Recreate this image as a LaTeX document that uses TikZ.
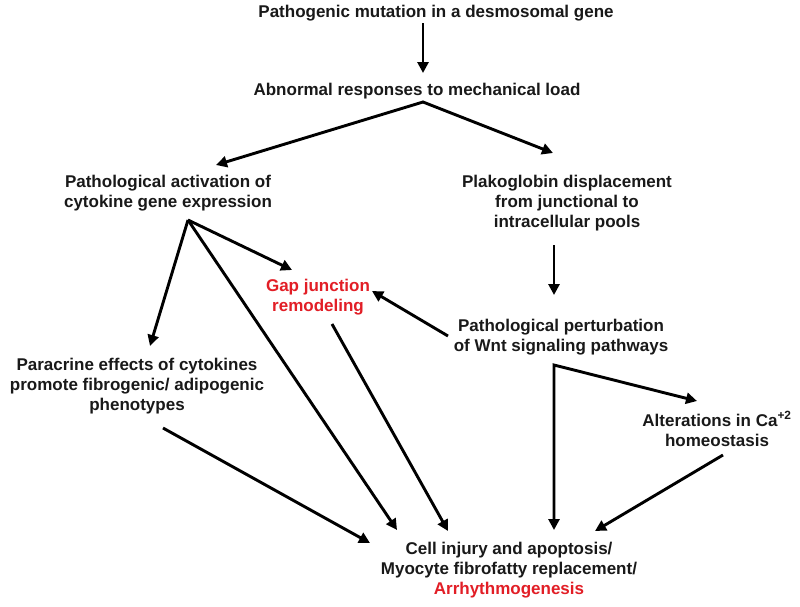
\documentclass[tikz,border=0pt]{standalone}
\usepackage{fontspec}
\setmainfont{Liberation Sans}
\usetikzlibrary{arrows.meta}
\definecolor{txt}{RGB}{25,25,25}
\definecolor{hl}{RGB}{226,30,38}
\begin{document}
\begin{tikzpicture}[x=1pt,y=-1pt,
  lbl/.style={align=center,inner sep=0pt,text=txt,font=\fontsize{17}{20}\selectfont\bfseries},
  redlbl/.style={lbl,text=hl},
  arr/.style={line width=2.9pt,draw=black,-{Triangle[length=11pt,width=11pt]},miter limit=20},
  darr/.style={line width=2.9pt,draw=black,{Triangle[length=11pt,width=11pt]}-{Triangle[length=11pt,width=11pt]},miter limit=20}]
\useasboundingbox (0,0) rectangle (800,606);
\fill[white] (0,0) rectangle (800,606);

\node[lbl] (n1) at (436,13) {Pathogenic mutation in a desmosomal gene};
\node[lbl] (n2) at (417,91) {Abnormal responses to mechanical load};
\node[lbl] (n3) at (168,193) {Pathological activation of\\cytokine gene expression};
\node[lbl] (n4) at (567,203) {Plakoglobin displacement\\from junctional to\\intracellular pools};
\node[redlbl] (n5) at (318,297) {Gap junction\\remodeling};
\node[lbl] (n6) at (561,337) {Pathological perturbation\\of Wnt signaling pathways};
\node[lbl] (n7) at (137,386) {Paracrine effects of cytokines\\promote fibrogenic/ adipogenic\\phenotypes};
\node[lbl] (n8) at (717,429) {Alterations in Ca\textsuperscript{+2}\\homeostasis};
\node[lbl] (n9) at (509,570) {Cell injury and apoptosis/\\Myocyte fibrofatty replacement/\\\textcolor{hl}{Arrhythmogenesis}};

% top
\draw[arr] ([shift={(-13,10)}]n1.center) -- ([shift={(6,-18)}]n2.center);
\draw[darr] ([shift={(48,-28)}]n3.center) -- ([shift={(6,11)}]n2.center) -- ([shift={(-14,-50)}]n4.center);
% right column
\draw[arr] ([shift={(-13,42)}]n4.center) -- ([shift={(-7,-42)}]n6.center);
\draw[darr] ([shift={(45,-40)}]n9.center) -- ([shift={(-7,28)}]n6.center) -- ([shift={(-20,-28)}]n8.center);
\draw[arr] ([shift={(6,26)}]n8.center) -- ([shift={(86,-39)}]n9.center);
\draw[arr] ([shift={(-113,-1)}]n6.center) -- ([shift={(54,-6)}]n5.center);
% cytokine fan
\draw[arr] ([shift={(20,27)}]n3.center) -- ([shift={(13,-40)}]n7.center);
\draw[arr] ([shift={(20,27)}]n3.center) -- ([shift={(-26,-27)}]n5.center);
\draw[arr] ([shift={(20,27)}]n3.center) -- ([shift={(-112,-40)}]n9.center);
% to bottom
\draw[arr] ([shift={(14,27)}]n5.center) -- ([shift={(-61,-39)}]n9.center);
\draw[arr] ([shift={(26,42)}]n7.center) -- ([shift={(-139,-27)}]n9.center);
\end{tikzpicture}
\end{document}
